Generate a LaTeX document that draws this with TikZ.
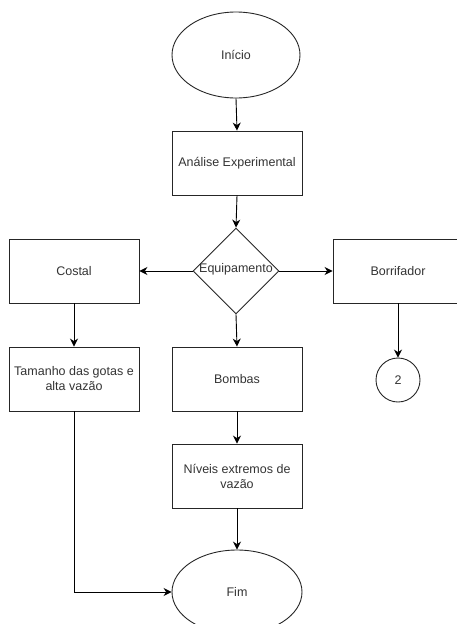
\documentclass[tikz,border=0pt]{standalone}
\usepackage{fontspec}
\setmainfont{Liberation Sans}
\usetikzlibrary{shapes.geometric,arrows.meta}
\definecolor{txt}{HTML}{333333}
\begin{document}
\begin{tikzpicture}[x=1pt,y=-1pt,
  base/.style={draw=black!85, line width=0.9pt, text=txt, font=\fontsize{12.5}{15}\selectfont, inner sep=1pt, align=center},
  boxnode/.style={base, rectangle, minimum width=130pt, minimum height=64pt},
  ovalnode/.style={base, ellipse, minimum width=128pt, minimum height=86pt},
  decnode/.style={base, diamond, minimum width=86pt, minimum height=86pt, inner sep=0pt},
  connode/.style={base, circle, minimum size=44pt},
  arr/.style={draw=black, line width=0.9pt, -{Stealth[length=8pt,width=8pt]}}]
\useasboundingbox (0,0) rectangle (456,624);
\node[ovalnode] (inicio) at (236,55) {Início};
\node[boxnode] (analise) at (237,163) {Análise Experimental};
\node[decnode] (equip) at (236,271) {};
\node[text=txt, font=\fontsize{12.5}{15}\selectfont] (equiptxt) at (236,269) {Equipamento};
\node[boxnode] (costal) at (74,271) {Costal};
\node[boxnode] (borr) at (398,271) {Borrifador};
\node[boxnode] (tamanho) at (74,379) {Tamanho das gotas e\\alta vazão};
\node[boxnode] (bombas) at (237,379) {Bombas};
\node[connode] (c2) at (398,380) {2};
\node[boxnode] (niveis) at (237,476) {Níveis extremos de\\vazão};
\node[ovalnode, minimum width=130pt, minimum height=84pt] (fim) at (237,592) {Fim};
\draw[arr] (inicio.south) -- (analise.north);
\draw[arr] (analise.south) -- (equip.north);
\draw[arr] (equip.west) -- (costal.east);
\draw[arr] (equip.east) -- (borr.west);
\draw[arr] (equip.south) -- (bombas.north);
\draw[arr] (costal.south) -- (tamanho.north);
\draw[arr] (borr.south) -- (c2.north);
\draw[arr] (bombas.south) -- (niveis.north);
\draw[arr] (niveis.south) -- (fim.north);
\draw[arr] (tamanho.south) |- (fim.west);
\end{tikzpicture}
\end{document}
